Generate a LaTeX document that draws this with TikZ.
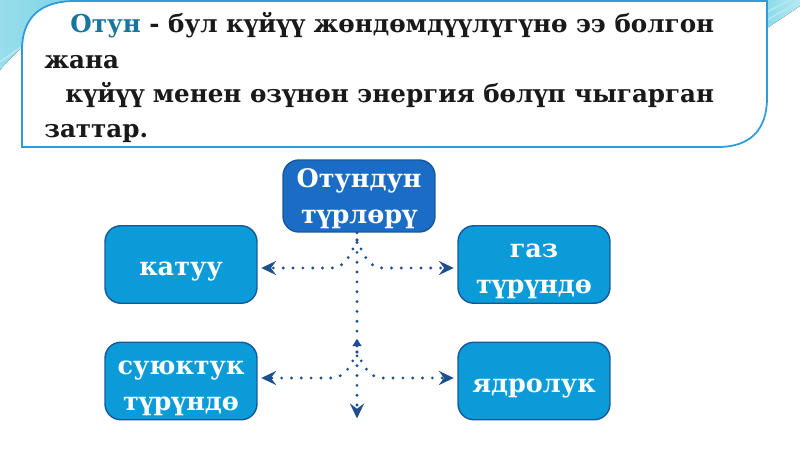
\documentclass[tikz,border=0pt]{standalone}
\usepackage{fontspec}
\setmainfont{DejaVu Serif}
\usetikzlibrary{arrows.meta,positioning}

\definecolor{topblue}{HTML}{1A6CC4}
\definecolor{boxblue}{HTML}{0A9BD8}
\definecolor{edgeblue}{HTML}{17589C}
\definecolor{dotblue}{HTML}{1F4F8F}
\definecolor{framecyan}{HTML}{2E9CD8}
\definecolor{otuncol}{HTML}{17759E}
\definecolor{swoosh}{HTML}{6CCFE3}
\definecolor{swooshlight}{HTML}{B5E9F2}

% label of a box, lowered a little below the middle
\newcommand\kindtext[2][6pt]{\raisebox{-#1}[0pt][0pt]{\begin{tabular}{@{}c@{}}#2\end{tabular}}}

\tikzset{
  kind/.style={draw=edgeblue, line width=0.8pt, fill=boxblue, rounded corners=9pt,
    minimum width=3.04cm, minimum height=1.55cm, text=white,
    inner sep=2pt, font=\fontsize{14.5}{20.5}\selectfont\bfseries},
  fork/.style={draw=dotblue, line width=1.8pt, line cap=round,
    dash pattern=on 0pt off 5.6pt,
    -{Stealth[length=8.5pt,width=8pt,inset=3pt]}, shorten >=2pt},
  defline/.style={anchor=base west, inner sep=0pt,
    font=\fontsize{14}{16}\selectfont\bfseries, text=black!90}
}

\begin{document}
\begin{tikzpicture}[x=0.02cm,y=-0.02cm]
\useasboundingbox (0,0) rectangle (800,450);
\fill[white] (0,0) rectangle (800,450);

% corner swooshes
\fill[left color=swoosh!70, right color=swoosh] (0,0) -- (110,0) .. controls (60,15) and (25,40) .. (0,70) -- cycle;
\draw[swooshlight, line width=1pt] (0,62) .. controls (30,40) and (70,15) .. (120,0);
\fill[left color=swoosh, right color=swooshlight] (740,0) -- (800,0) -- (800,6) -- (767,28) -- cycle;
\draw[swooshlight, line width=0.8pt] (767,20) -- (800,1);
\draw[swooshlight, line width=0.8pt] (767,12) -- (790,0);

% definition frame
\draw[framecyan, fill=white, line width=1pt]
  (22,147) -- (22,50) .. controls (22,18) and (40,1) .. (75,1) -- (767,1)
  -- (767,98) .. controls (767,130) and (750,147) .. (718,147) -- cycle;

\node[defline] (line1) at (70,32) {\textcolor{otuncol}{Отун} - бул күйүү жөндөмдүүлүгүнө ээ болгон};
\node[defline] (line2) at (44,68) {жана};
\node[defline] (line3) at (65,102) {күйүү менен өзүнөн энергия бөлүп чыгарган};
\node[defline] (line4) at (44,137) {заттар.};

% kinds
\node[kind, fill=topblue, minimum height=1.44cm] (types) at (359,196) {\kindtext[4.8pt]{Отундун\\түрлөрү}};
\node[kind] (solid) at (181,264.5) {\kindtext{катуу}};
\node[kind] (gas) at (534,264.5) {\kindtext{газ\\түрүндө}};
\node[kind] (liquid) at (181,381) {\kindtext{суюктук\\түрүндө}};
\node[kind] (nuclear) at (534,381) {\kindtext{ядролук}};

\coordinate (j1) at (357,240);
\coordinate (l1) at (331,268);
\coordinate (r1) at (383,268);
\coordinate (j2) at (357,346);
\coordinate (j3) at (357,352);
\coordinate (l2) at (331,378);
\coordinate (r2) at (383,378);
\coordinate (down) at (357,422);

\draw[fork, -{Triangle[length=4pt,width=5pt,reversed]}, shorten >=0pt] (types.south -| j1) -- (j2);
\draw[fork] (j1) to[out=-115,in=0] (l1) -- (l1 -| solid.east);
\draw[fork] (j1) to[out=-65,in=180] (r1) -- (r1 -| gas.west);
\draw[fork] (j2) -- (down);
\draw[fork] (j3) to[out=-115,in=0] (l2) -- (l2 -| liquid.east);
\draw[fork] (j3) to[out=-65,in=180] (r2) -- (r2 -| nuclear.west);
\end{tikzpicture}
\end{document}
